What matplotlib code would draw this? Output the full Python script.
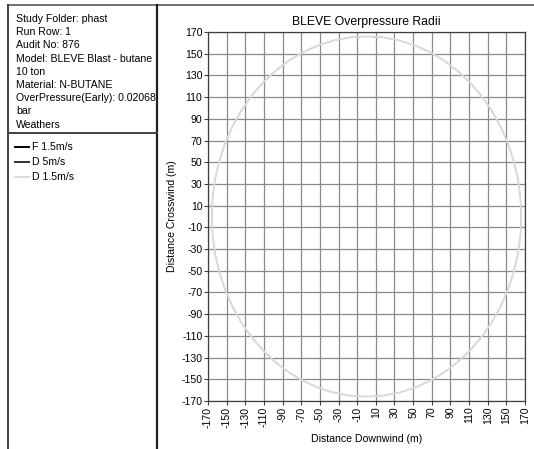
import matplotlib
matplotlib.use("Agg")
import matplotlib.pyplot as plt
from matplotlib.lines import Line2D
from matplotlib.patches import CirclePolygon

# chart data
info_lines = [
    "Study Folder: phast",
    "Run Row: 1",
    "Audit No: 876",
    "Model: BLEVE Blast - butane",
    "10 ton",
    "Material: N-BUTANE",
    "OverPressure(Early): 0.02068",
    "bar",
    "Weathers",
]
weathers = ["F 1.5m/s", "D 5m/s", "D 1.5m/s"]
radii = [166, 166, 166]
centre_x = [0, 0, 0]
centre_y = [0, 0, 0]
weather_colours = ["#000000", "#333333", "#dcdcdc"]
tick_values = [-170, -150, -130, -110, -90, -70, -50, -30, -10,
               10, 30, 50, 70, 90, 110, 130, 150, 170]

W, H = 534, 449
plt.rcParams["font.family"] = ["Liberation Sans", "DejaVu Sans"]

fig = plt.figure(figsize=(W / 100, H / 100), dpi=100)


def fx(x):
    return x / W


def fy(y):
    return 1 - y / H


# panel frame
frame = "#404040"
fig.add_artist(Line2D([fx(8), fx(534)], [fy(5), fy(5)], color="#707070", lw=1.4))
fig.add_artist(Line2D([fx(8), fx(8)], [fy(5), fy(449)], color=frame, lw=1.4))
fig.add_artist(Line2D([fx(157), fx(157)], [fy(5), fy(449)], color="#202020", lw=1.6))
fig.add_artist(Line2D([fx(8), fx(157)], [fy(133), fy(133)], color=frame, lw=1.4))

# info block
for i, line in enumerate(info_lines):
    fig.text(fx(16), fy(19 + i * 13.2), line, fontsize=7.6, va="center", ha="left")

# legend block
for i, (name, col) in enumerate(zip(weathers, weather_colours)):
    y = fy(147 + i * 15.2)
    fig.add_artist(Line2D([fx(15), fx(29)], [y, y], color=col, lw=1.4))
    fig.text(fx(32), y, name, fontsize=7.6, va="center", ha="left")

# main plot
ax = fig.add_axes([fx(208), fy(401), (525 - 208) / W, (401 - 32) / H])
ax.set_xlim(-170, 170)
ax.set_ylim(-170, 170)
ax.set_xticks(tick_values)
ax.set_yticks(tick_values)
ax.set_xticklabels([str(v) for v in tick_values], rotation=90, fontsize=7.6)
ax.set_yticklabels([str(v) for v in tick_values], fontsize=7.6)
ax.tick_params(length=3, width=0.8, color=frame, pad=1)
ax.grid(True, color="#8a8a8a", lw=0.9)
ax.set_axisbelow(True)
for s in ax.spines.values():
    s.set_color(frame)
    s.set_linewidth(0.9)

# weathers with equal radii overlap, the last one drawn stays on top
widths = [0.5, 0.5, 1.4]
for cx, cy, r, col, lw in zip(centre_x, centre_y, radii, weather_colours, widths):
    ax.add_patch(CirclePolygon((cx, cy), r, resolution=60, fill=False,
                               edgecolor=col, lw=lw, zorder=3))

ax.set_title("BLEVE Overpressure Radii", fontsize=8.8, pad=5)
ax.set_xlabel("Distance Downwind (m)", fontsize=7.6, labelpad=5)
ax.set_ylabel("Distance Crosswind (m)", fontsize=7.6, labelpad=3)

fig.savefig("out.png", dpi=100)
